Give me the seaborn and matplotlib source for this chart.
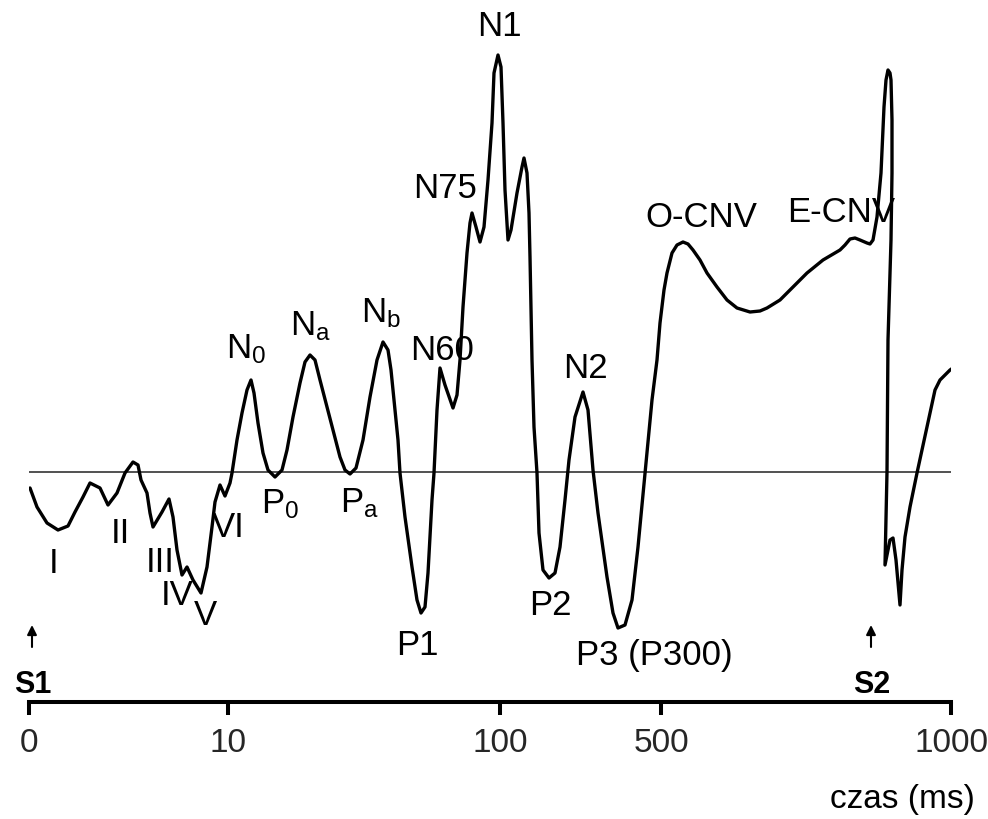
import matplotlib
matplotlib.use("Agg")
import matplotlib.pyplot as plt
import seaborn as sns
import pandas as pd

# ---- data (schematic time position, amplitude in arbitrary units; positive = up) ----
pos = [1, 8, 18, 29, 39, 46, 54, 61, 71, 79, 88, 96, 104, 109, 112, 118, 121, 124,
       133, 140, 144, 148, 153, 158, 164, 172, 178, 183, 186, 191, 196, 201,
       203, 208, 213, 218, 222, 225, 229, 234, 239, 246, 253, 258, 264, 271, 276,
       281, 286, 291, 298, 304, 311, 316, 321, 327, 334, 341, 348, 354, 359, 362,
       369, 371, 376, 383, 388, 392, 396, 399, 403, 405, 408, 411, 416,
       424, 428, 431, 434, 438, 441, 443, 447, 451, 455, 459, 463, 465, 469, 472,
       474, 476, 479, 482, 488, 493, 495, 498, 500, 501, 503, 505, 508, 510, 514,
       520, 526, 531, 536, 540, 546, 554, 559, 564, 569, 578, 584, 589, 596, 603,
       609, 616, 623, 628,
       631, 635, 638, 643, 648, 654, 659, 664, 671, 678, 688, 698, 708, 721, 731,
       738, 751, 764, 778, 794, 811, 816, 821, 826, 831, 838, 841, 844, 848, 852,
       855, 857, 859, 861, 862, 863, 863, 862, 859, 858, 856, 858, 861, 864, 867,
       871, 873, 876, 881, 888, 898, 906, 911, 921, 931]
amp = [-1.6, -3.5, -5.1, -5.8, -5.4, -4.0, -2.5, -1.1, -1.6, -3.3, -2.1, -0.1, 1.0,
       0.7, -0.8, -2.1, -4.1, -5.5, -4.0, -2.7, -4.5, -7.8, -10.3, -9.5, -10.8,
       -12.1, -9.5, -5.5, -3.0, -1.3, -2.4, -1.1,
       -0.1, 3.2, 5.9, 8.2, 9.2, 7.9, 4.9, 1.9, 0.2, -0.5, 0.2, 2.2, 5.5, 8.9, 11.0,
       11.7, 11.2, 9.2, 6.5, 4.2, 1.5, 0.2, -0.2, 0.4, 3.2, 7.5, 11.2, 13.0, 12.2,
       10.2, 3.2, -0.1, -4.5, -9.5, -12.8, -14.1, -13.5, -10.1, -2.8, -0.1, 6.2,
       10.4, 8.7,
       6.4, 7.7, 11.2, 16.5, 21.9, 24.9, 25.9, 24.5, 23.0, 24.5, 29.2, 34.9, 39.9,
       41.7, 40.5, 34.9, 28.2, 23.2, 24.2, 27.9, 30.5, 31.4, 29.9, 25.9, 21.5, 11.2,
       4.5, -0.1, -6.1, -9.8, -10.6, -10.1, -7.5, -2.8, 1.2, 5.5, 8.0, 6.2, 0.2,
       -4.1, -10.5, -14.1, -15.6, -15.3, -12.8, -7.5, -0.1, 7.2, 11.2,
       14.9, 18.2, 19.9, 21.9, 22.7, 23.0, 22.8, 22.2, 21.2, 19.9, 18.5, 17.2, 16.4,
       16.0, 16.1, 16.4, 17.2, 18.5, 19.9, 21.2, 22.2, 22.7, 23.3, 23.4, 23.2, 22.9,
       22.8, 23.2, 25.5, 29.9, 36.5, 39.2, 40.2, 39.9, 39.2, 35.2, 29.9, 23.2, 13.2,
       0.0, -9.3, -8.3, -6.8, -6.6, -8.8, -13.3, -9.8, -6.5, -3.5, -0.1, 4.5, 8.2,
       9.2, 10.2, 10.9]

tick_pos = [0, 199, 471, 632, 922]
tick_labels = ["0", "10", "100", "500", "1000"]

peak_names = ["N1", "N75", "N60", "N2", "O-CNV", "E-CNV", "P1", "P2", "P3 (P300)",
              "I", "II", "III", "IV", "V", "VI"]
peak_x = [470, 416.5, 413.5, 556, 672.5, 812.5, 388.5, 521, 625,
          25, 91, 131, 148, 176, 199]
peak_y = [43.6, 27.4, 11.2, 9.4, 24.5, 25.0, -18.3, -14.3, -19.3,
          -10.1, -7.1, -10.0, -13.3, -15.3, -6.5]

sub_names = [r"N$_\mathrm{0}$", r"N$_\mathrm{a}$", r"N$_\mathrm{b}$",
             r"P$_\mathrm{0}$", r"P$_\mathrm{a}$"]
sub_x = [197, 261, 332, 232, 311]
sub_y = [11.4, 13.7, 15.0, -4.1, -4.0]

stim_names = ["S1", "S2"]
stim_x = [3, 842]

# ---- style ----
sns.set_theme(style="white")
plt.rcParams["font.family"] = ["Liberation Sans", "DejaVu Sans"]
plt.rcParams["mathtext.fontset"] = "custom"
plt.rcParams["mathtext.rm"] = "Liberation Sans"
plt.rcParams["mathtext.it"] = "Liberation Sans:italic"
plt.rcParams["mathtext.bf"] = "Liberation Sans:bold"

fig = plt.figure(figsize=(9.88, 8.19), dpi=100)
fig.patch.set_facecolor("white")
ax = fig.add_axes([29 / 988, 117 / 819, 922 / 988, 702 / 819])
ax.set_facecolor("white")

df = pd.DataFrame({"pos": pos, "amp": amp})
ax.axhline(0, color="#222222", lw=1.1, zorder=1)
sns.lineplot(data=df, x="pos", y="amp", sort=False, estimator=None, color="black",
             lw=2.4, ax=ax, zorder=3, solid_joinstyle="round", solid_capstyle="round")

ax.set_xlim(0, 922)
ax.set_ylim(-23.0, 47.2)

for s in ["left", "right", "top"]:
    ax.spines[s].set_visible(False)
ax.spines["bottom"].set_linewidth(2.9)
ax.spines["bottom"].set_color("black")
ax.set_yticks([])
ax.set_xticks(tick_pos)
ax.set_xticklabels(tick_labels)
ax.tick_params(axis="x", direction="out", length=9, width=2.9, color="black",
               labelsize=24, pad=10, bottom=True)
ax.set_xlabel("")
ax.set_ylabel("")

for name, x, y in zip(peak_names, peak_x, peak_y):
    ax.text(x, y, name, ha="center", va="baseline", fontsize=25, color="black")

for name, x, y in zip(sub_names, sub_x, sub_y):
    ax.text(x, y, name, ha="left", va="baseline", fontsize=25, color="black")

for name, x in zip(stim_names, stim_x):
    ax.annotate("", xy=(x, -15.3), xytext=(x, -17.5),
                arrowprops=dict(arrowstyle="-|>", color="black", lw=1.5,
                                mutation_scale=14, shrinkA=0, shrinkB=0))
    ax.text(x + 1, -22.1, name, ha="center", va="baseline", fontsize=22,
            fontweight="bold", color="black")

ax.text(946, -33.6, "czas (ms)", ha="right", va="baseline", fontsize=24, color="black")

fig.savefig("out.png", dpi=100, facecolor="white")
